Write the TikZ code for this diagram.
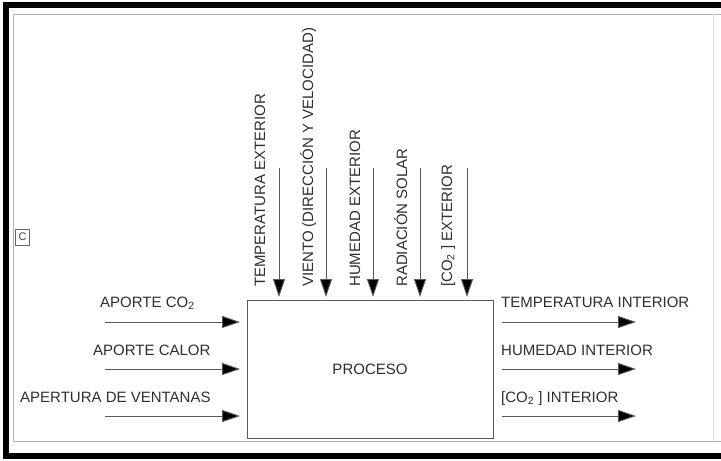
\documentclass[tikz,border=0pt]{standalone}
\usepackage{fontspec}
\setmainfont{Liberation Sans}
\usetikzlibrary{arrows.meta}

\tikzset{
  flecha/.style={draw=black!65, line width=0.9pt, -{Triangle[length=18pt,width=12pt,fill=black]}},
  etiq/.style={font=\fontsize{15}{18}\selectfont, text=black!82, inner sep=0pt},
}

\begin{document}
\begin{tikzpicture}[x=1pt,y=-1pt]
          \useasboundingbox (0,0) rectangle (721,461);
          % marco
          \draw[black!30, line width=0.8pt] (721,14)--(13,14)--(13,441)--(721,441);
          \draw[black!12] (713,14)--(713,441);
          \draw[line width=6pt] (721,5)--(6,5)--(6,456)--(721,456);

          \node[draw=black!60, line width=0.8pt, text=black!75, font=\fontsize{11}{13}\selectfont, minimum width=14pt, minimum height=16pt, inner sep=1pt] (letra) at (22.5,237) {C};

          \node[draw=black!65, line width=0.9pt, minimum width=246pt, minimum height=138pt, etiq] (proceso) at (370,369) {PROCESO};

          % entradas exteriores
          \coordinate (t1) at (279,168); \coordinate (b1) at (279,297);
          \coordinate (t2) at (326,168); \coordinate (b2) at (326,297);
          \coordinate (t3) at (373,168); \coordinate (b3) at (373,297);
          \coordinate (t4) at (420,168); \coordinate (b4) at (420,297);
          \coordinate (t5) at (467,168); \coordinate (b5) at (467,297);
          \draw[flecha] (t1)--(b1);
          \draw[flecha] (t2)--(b2);
          \draw[flecha] (t3)--(b3);
          \draw[flecha] (t4)--(b4);
          \draw[flecha] (t5)--(b5);

          \node[etiq, rotate=90, anchor=base west] (tempext) at (265,287) {TEMPERATURA EXTERIOR};
          \node[etiq, rotate=90, anchor=base west] (viento) at (313,287) {VIENTO (DIRECCIÓN Y VELOCIDAD)};
          \node[etiq, rotate=90, anchor=base west] (humext) at (360,287) {HUMEDAD EXTERIOR};
          \node[etiq, rotate=90, anchor=base west] (radsol) at (407,287) {RADIACIÓN SOLAR};
          \node[etiq, rotate=90, anchor=base west] (coext) at (452,287) {[CO\textsubscript{2} ] EXTERIOR};

          % entradas de control
          \coordinate (i1) at (105,322); \coordinate (j1) at (240,322);
          \coordinate (i2) at (105,369); \coordinate (j2) at (240,369);
          \coordinate (i3) at (105,416); \coordinate (j3) at (240,416);
          \draw[flecha] (i1)--(j1);
          \draw[flecha] (i2)--(j2);
          \draw[flecha] (i3)--(j3);

          \node[etiq, anchor=base west] (aporteco) at (100,307) {APORTE CO\textsubscript{2}};
          \node[etiq, anchor=base west] (aportecal) at (93,355) {APORTE CALOR};
          \node[etiq, anchor=base west] (apertura) at (20,402) {APERTURA DE VENTANAS};

          % salidas
          \coordinate (s1) at (502,322); \coordinate (e1) at (636,322);
          \coordinate (s2) at (502,369); \coordinate (e2) at (636,369);
          \coordinate (s3) at (502,416); \coordinate (e3) at (636,416);
          \draw[flecha] (s1)--(e1);
          \draw[flecha] (s2)--(e2);
          \draw[flecha] (s3)--(e3);

          \node[etiq, anchor=base west] (tempint) at (501,307) {TEMPERATURA INTERIOR};
          \node[etiq, anchor=base west] (humint) at (501,355) {HUMEDAD INTERIOR};
          \node[etiq, anchor=base west] (coint) at (501,402) {[CO\textsubscript{2} ] INTERIOR};
        \end{tikzpicture}
\end{document}
